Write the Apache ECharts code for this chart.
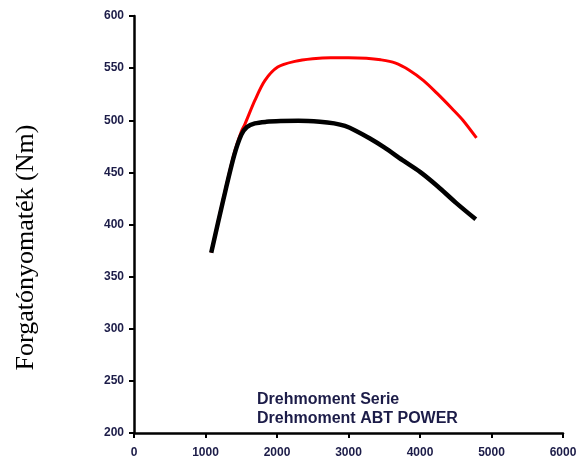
<!DOCTYPE html>
<html>
<head>
<meta charset="utf-8">
<script src="https://cdn.jsdelivr.net/npm/echarts@6/dist/echarts.min.js"></script>
<style>html,body{margin:0;padding:0;background:#fff}#c{width:579px;height:456px}</style>
</head>
<body>
<div id="c"></div>
<script>
const seriesNames = ['Drehmoment Serie', 'Drehmoment ABT POWER'];
const rpmSerie = [1080, 1250, 1400, 1500, 1580, 1690, 1850, 2050, 2300, 2600, 2800, 2950, 3100, 3300, 3500, 3750, 4000, 4250, 4500, 4780];
const torqueSerie = [373, 424, 466, 486, 493.5, 497, 498.5, 499.2, 499.5, 498.6, 497, 494.5, 490, 482.5, 474, 462, 450.5, 436.5, 421, 405];
const rpmAbt = [1080, 1250, 1400, 1500, 1550, 1690, 1830, 2010, 2250, 2500, 2750, 3000, 3250, 3450, 3650, 3850, 4050, 4250, 4450, 4600, 4790];
const torqueAbt = [373, 425, 468, 489, 496, 519, 538, 551, 556.5, 559, 560, 560, 559.5, 558, 555, 548, 538, 525, 511, 500, 483];
const yTicks = [200, 600, 50];
const xTicks = [0, 6000, 1000];
const yTitle = 'Forgatónyomaték (Nm)';

const pairs = (xs, ys) => xs.map((x, i) => [x, ys[i]]);
const labelColor = '#1c1c48';
const sans = 'Liberation Sans, Arial, sans-serif';
const chart = echarts.init(document.getElementById('c'));
chart.setOption({
  animation: false,
  backgroundColor: '#fff',
  grid: { left: 134, right: 16, top: 16, bottom: 23, containLabel: false, outerBoundsMode: 'none' },
  legend: {
    data: seriesNames,
    orient: 'vertical',
    left: 246, top: 387,
    itemWidth: 0, itemHeight: 0, itemGap: 3,
    textStyle: { color: labelColor, fontWeight: 'bold', fontSize: 16, fontFamily: sans },
    selectedMode: false
  },
  xAxis: {
    type: 'value', min: xTicks[0], max: xTicks[1], interval: xTicks[2],
    axisLine: { show: true, lineStyle: { color: '#000', width: 2.5 } },
    axisTick: { show: true, inside: false, length: 5, lineStyle: { color: '#000', width: 2 } },
    axisLabel: { color: labelColor, fontWeight: 'bold', fontSize: 12, fontFamily: sans, margin: 14,
      formatter: v => String(v) },
    splitLine: { show: false }
  },
  yAxis: {
    type: 'value', min: yTicks[0], max: yTicks[1], interval: yTicks[2],
    name: yTitle, nameLocation: 'middle', nameRotate: 90, nameGap: 95,
    nameTextStyle: { color: '#000', fontSize: 26, fontFamily: 'Liberation Serif, Times New Roman, serif', padding: [0, 46, 0, 0] },
    axisLine: { show: true, lineStyle: { color: '#000', width: 2.5 } },
    axisTick: { show: true, inside: false, length: 5, lineStyle: { color: '#000', width: 2 } },
    axisLabel: { color: labelColor, fontWeight: 'bold', fontSize: 12, fontFamily: sans, margin: 10,
      formatter: v => String(v) },
    splitLine: { show: false }
  },
  series: [
    {
      name: seriesNames[1], type: 'line', data: pairs(rpmAbt, torqueAbt),
      smooth: 0.3, showSymbol: false, symbol: 'none', z: 2,
      lineStyle: { color: '#ff0000', width: 3 }, itemStyle: { color: '#ff0000' }
    },
    {
      name: seriesNames[0], type: 'line', data: pairs(rpmSerie, torqueSerie),
      smooth: 0.3, showSymbol: false, symbol: 'none', z: 3,
      lineStyle: { color: '#000', width: 4.5 }, itemStyle: { color: '#000' }
    }
  ]
});
</script>
</body>
</html>
